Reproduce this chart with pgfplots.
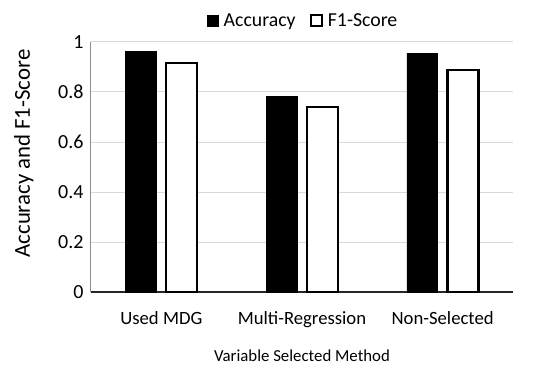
\documentclass[border=0pt]{standalone}
\usepackage{fontspec}
\setmainfont{Carlito}
\usepackage{pgfplots}
\pgfplotsset{compat=1.18}
\begin{document}
\begin{tikzpicture}
\begin{axis}[
  scale only axis,
  width=422pt, height=250pt,
  xmin=-0.5, xmax=2.5,
  ymin=0, ymax=1,
  clip=false,
  xtick={0,1,2},
  xticklabels={Used MDG, Multi-Regression, Non-Selected},
  ytick={0,0.2,0.4,0.6,0.8,1},
  /pgf/number format/assume math mode=true,
  xticklabel style={font=\fontsize{18.7}{22}\selectfont, anchor=base, yshift=-32pt},
  yticklabel style={font=\fontsize{20}{24}\selectfont, anchor=east, xshift=-4pt},
  major tick length=0pt,
  axis x line=bottom, axis y line=left,
  x axis line style={-, draw=black!85, line width=1.3pt},
  y axis line style={-, draw=black!45, line width=1pt},
  ymajorgrids,
  grid style={draw=black!15, line width=1pt},
  xlabel={Variable Selected Method},
  xlabel style={font=\fontsize{16.8}{20}\selectfont, at={(axis description cs:0.5,-0.256)}, anchor=center},
  ylabel={Accuracy and F1-Score},
  ylabel style={font=\fontsize{22.8}{26}\selectfont, at={(axis description cs:-0.159,0.554)}, anchor=center},
  legend style={draw=none, fill=none, at={(axis description cs:0.503,1.085)}, anchor=center,
    font=\fontsize{19.8}{23}\selectfont, legend columns=2,
    /tikz/every odd column/.append style={column sep=3pt},
    /tikz/every even column/.append style={column sep=12pt}},
  legend image code/.code={\draw[#1] (0pt,-5.5pt) rectangle (11pt,5.5pt);},
]
\addplot[ybar, bar width=0.22, bar shift=-0.145, fill=black, draw=black, line width=0.5pt]
  coordinates {(0,0.961) (1,0.781) (2,0.955)};
\addlegendentry{Accuracy}
\addplot[ybar, bar width=0.22, bar shift=0.145, fill=white, draw=black, line width=2.3pt]
  coordinates {(0,0.916) (1,0.739) (2,0.888)};
\addlegendentry{F1-Score}
\coordinate (bl) at (rel axis cs:-0.2156,-0.332);
\coordinate (tr) at (rel axis cs:1.0877,1.168);
\end{axis}
\pgfresetboundingbox
\path (bl) rectangle (tr);
\end{tikzpicture}
\end{document}
